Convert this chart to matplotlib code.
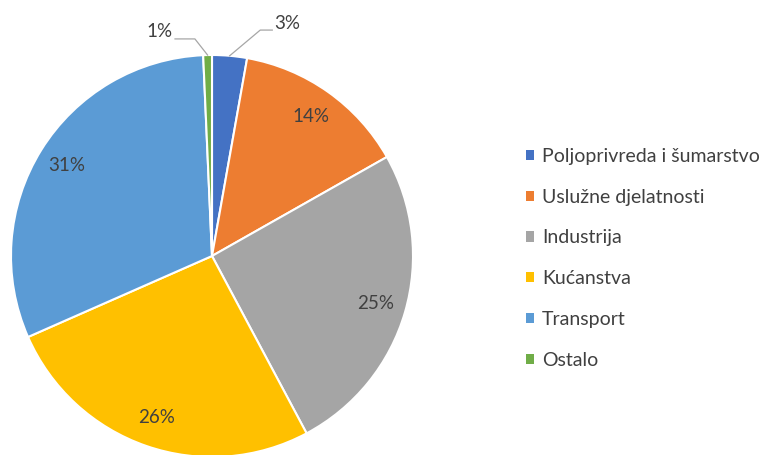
import matplotlib.pyplot as plt
import numpy as np

plt.rcParams['font.family'] = ['Lato', 'DejaVu Sans']

# data
sectors = ["Poljoprivreda i šumarstvo", "Uslužne djelatnosti", "Industrija",
           "Kućanstva", "Transport", "Ostalo"]
shares = [2.8, 14.0, 25.4, 26.2, 30.9, 0.7]
colors = ["#4472C4", "#ED7D31", "#A5A5A5", "#FFC000", "#5B9BD5", "#70AD47"]

W, H = 770, 455
fig = plt.figure(figsize=(W / 100, H / 100), dpi=100)

# pie centre (212, 256) px, radius 201 px
cx, cy, r = 212, 256, 201
ax = fig.add_axes([(cx - r) / W, (H - cy - r) / H, 2 * r / W, 2 * r / H])

wedges, texts, autotexts = ax.pie(
    shares, colors=colors, startangle=90, counterclock=False,
    autopct='%.0f%%', pctdistance=0.85, radius=1,
    wedgeprops=dict(edgecolor='white', linewidth=1.5),
    textprops=dict(color='#404040', fontsize=13.5))
ax.set_xlim(-1, 1)
ax.set_ylim(-1, 1)
ax.set_aspect('equal')
ax.axis('off')

# small slices: outside labels with leader lines (bend point, end point)
small = {0: ((0.24, 1.124), (0.30, 1.124)),
         5: ((-0.085, 1.08), (-0.184, 1.08))}
for i, (bend, end) in small.items():
    autotexts[i].set_visible(False)
    w = wedges[i]
    ang = np.deg2rad((w.theta1 + w.theta2) / 2)
    x0, y0 = np.cos(ang), np.sin(ang)
    ax.plot([x0, bend[0], end[0]], [y0, bend[1], end[1]], color='#A6A6A6',
            lw=0.9, clip_on=False)
    right = end[0] > bend[0]
    ax.text(end[0] + (0.012 if right else -0.012), end[1] + 0.035,
            f"{shares[i]:.0f}%", ha='left' if right else 'right',
            va='center', color='#404040', fontsize=13.5)

leg = fig.legend(wedges, sectors, loc='upper left',
                 bbox_to_anchor=(526 / W, 1 - 148 / H), frameon=False,
                 borderpad=0, borderaxespad=0,
                 handlelength=0.43, handleheight=0.43, handletextpad=0.4,
                 labelspacing=1.22, fontsize=14, labelcolor='#404040')
for h in leg.legend_handles:
    h.set_edgecolor('none')

fig.savefig("out.png", dpi=100)
